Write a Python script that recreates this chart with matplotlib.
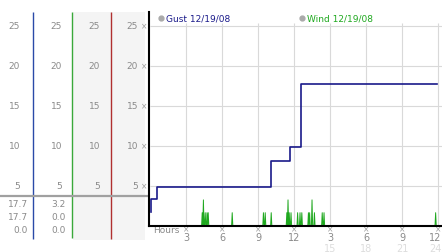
import matplotlib
matplotlib.use("Agg")
import matplotlib.pyplot as plt
from matplotlib.transforms import blended_transform_factory

# gust readings (hour of day, mph) - step line
gust_hours = [0.05, 0.06, 0.6, 10.1, 11.7, 12.55, 12.62, 23.9]
gust_values = [1.7, 3.3, 4.8, 8.1, 9.8, 13.8, 17.7, 17.7]

# wind readings: short spikes above zero
wind_hours = [4.35, 4.45, 4.6, 4.75, 4.85, 6.85, 9.45, 9.6, 10.1,
              11.4, 11.5, 11.6, 11.75, 12.3, 12.5, 12.65, 13.2, 13.3,
              13.5, 13.7, 14.35, 14.5, 23.8]
wind_values = [1.6, 3.2, 1.6, 1.6, 1.6, 1.6, 1.6, 1.6, 1.6,
               1.6, 3.2, 1.6, 1.6, 1.6, 1.6, 1.6, 1.6, 1.6,
               3.2, 1.6, 1.6, 1.6, 1.6]

y_ticks = [5, 10, 15, 20, 25]
x_ticks = [3, 6, 9, 12, 15, 18, 21, 24]
x_labels = ["3", "6", "9", "12", "3", "6", "9", "12"]
x_labels2 = ["", "", "", "", "15", "18", "21", "24"]
gust_stats = ["17.7", "17.7", "0.0"]
wind_stats = ["3.2", "0.0", "0.0"]

GUST = "#1a1a8a"
WIND = "#1fa81f"
GREY = "#8a8a8a"

fig = plt.figure(figsize=(4.42, 2.53), dpi=100)

# pixel-space overlay for the left panel
ov = fig.add_axes([0, 0, 1, 1], zorder=0)
ov.set_xlim(0, 442)
ov.set_ylim(253, 0)
ov.axis("off")

ax = fig.add_axes([149 / 442, (253 - 226.5) / 253, 293 / 442, 213.5 / 253], zorder=1)
ax.set_xlim(-1 / 12, 24.33)
ax.set_ylim(0, 213.5 / 8)
ax.patch.set_alpha(0)
for s in ["top", "right"]:
    ax.spines[s].set_visible(False)
ax.spines["left"].set_linewidth(1.5)
ax.spines["bottom"].set_linewidth(1.5)
ax.set_xticks([])
ax.set_yticks([])

# grid
ax.hlines(y_ticks, 0, 24.33, color="#d9d9d9", lw=0.8, zorder=0)
ax.vlines(x_ticks, 0, 25.3, color="#d9d9d9", lw=0.8, zorder=0)

# gust
ax.plot(gust_hours, gust_values, drawstyle="steps-post", color=GUST, lw=1.2, zorder=3)

# wind: build the spike line from the readings
wt, wv = [0.0], [0.0]
for h, v in zip(wind_hours, wind_values):
    wt += [h - 0.05, h, h + 0.05]
    wv += [0, v, 0]
wt.append(24.0)
wv.append(0.0)
ax.plot(wt, wv, color=WIND, lw=0.7, zorder=2)

# legend entries
ax.plot([0.9], [25.9], "o", ms=3.5, color="#aaaaaa", clip_on=False)
ax.text(1.3, 25.9, "Gust 12/19/08", color=GUST, fontsize=6.5, va="center")
ax.plot([12.65], [25.9], "o", ms=3.5, color="#aaaaaa", clip_on=False)
ax.text(13.05, 25.9, "Wind 12/19/08", color=WIND, fontsize=6.5, va="center")

# left panel: shaded columns and coloured dividers
ov.fill_between([73, 145], 13, 241, color="#f4f4f4", lw=0, zorder=0)
ov.vlines([33], 13, 240, color="#2a4aa8", lw=1)
ov.vlines([72], 13, 239, color="#3aa83a", lw=1)
ov.vlines([111], 13, 240, color="#b03030", lw=1)
ov.hlines([197], 0, 148, color="#a0a0a0", lw=1.6)

ytr = blended_transform_factory(ov.transData, ax.transData)
for v in y_ticks:
    for xr in [20, 62, 100, 138]:
        ov.text(xr, v, str(v), transform=ytr, ha="right", va="center",
                color=GREY, fontsize=6.5, zorder=5)
    ov.text(144.5, v, "×", transform=ytr, ha="center", va="center",
            color="#999999", fontsize=5.5, zorder=5)

for i, (g, w) in enumerate(zip(gust_stats, wind_stats)):
    y = 205 + i * 13
    ov.text(28, y, g, ha="right", va="center", color=GREY, fontsize=6.5)
    ov.text(66, y, w, ha="right", va="center", color=GREY, fontsize=6.5)

# x axis labels
xtr = blended_transform_factory(ax.transData, ov.transData)
ov.text(153, 231, "Hours", ha="left", va="center", color=GREY, fontsize=6.5)
for i, (h, l1, l2) in enumerate(zip(x_ticks, x_labels, x_labels2)):
    last = i == len(x_ticks) - 1
    lx = h + 0.28 if last else h
    ha = "right" if last else "center"
    ov.text(h, 229.5, "×", transform=xtr, ha="center", va="center",
            color="#999999", fontsize=5.5, zorder=5)
    ov.text(lx, 238, l1, transform=xtr, ha=ha, va="center",
            color=GREY, fontsize=7)
    if l2:
        ov.text(lx, 249, l2, transform=xtr, ha=ha, va="center",
                color="#dddddd", fontsize=7)

fig.savefig("out.png", dpi=100)
